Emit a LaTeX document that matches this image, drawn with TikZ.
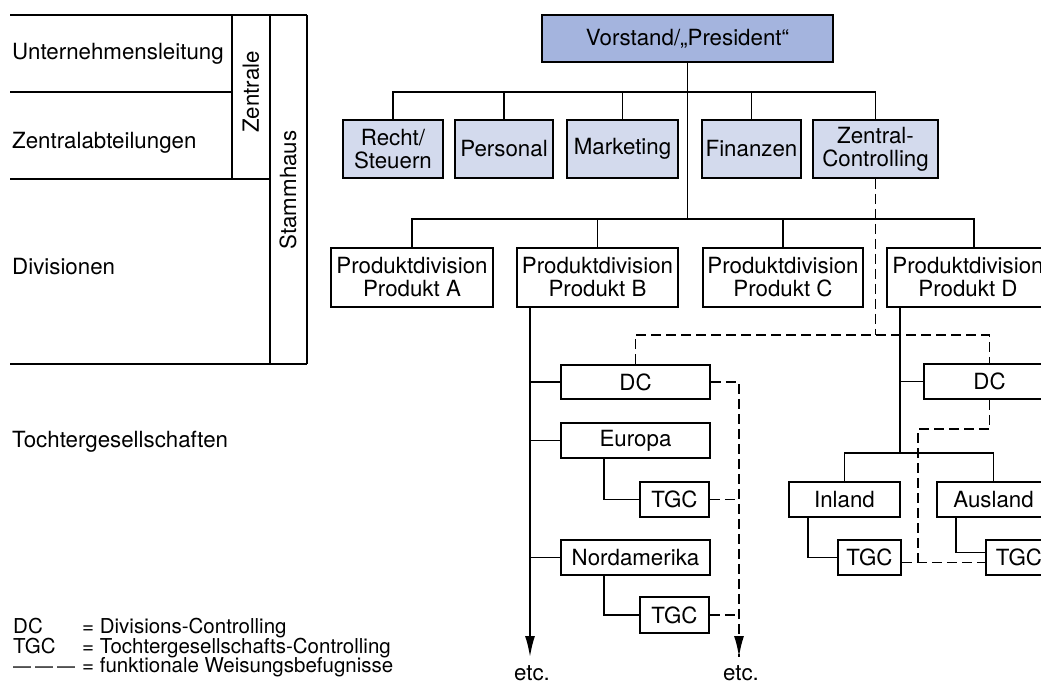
\documentclass[tikz,border=0pt]{standalone}
\usepackage{fontspec}
\setmainfont{TeX Gyre Heros}
\usetikzlibrary{arrows.meta}
\definecolor{darkblu}{RGB}{164,180,222}
\definecolor{lightblu}{RGB}{211,218,237}
\tikzset{
  ln/.style={line width=1.8pt},
  dsh/.style={line width=1.8pt, dash pattern=on 10pt off 5pt},
  box/.style={draw, line width=1.8pt, inner sep=0pt, align=center, font=\fontsize{22.3}{23}\selectfont},
  sbox/.style={box, fill=lightblu},
  lbl/.style={anchor=west, inner sep=0pt, font=\fontsize{22.3}{23}\selectfont},
  leg/.style={anchor=west, inner sep=0pt, text height=14pt, text depth=4pt, font=\fontsize{20.5}{20}\selectfont},
  arr/.style={-{Latex[length=21pt,width=10pt]}}
}
\begin{document}
\begin{tikzpicture}[x=1pt,y=-1pt]
\useasboundingbox (0,0) rectangle (1041,684);
% left panel
\draw[ln] (10,15) -- (307,15);
\draw[ln] (10,92) -- (232,92);
\draw[ln] (10,179) -- (270,179);
\draw[ln] (10,364) -- (307,364);
\draw[ln] (232,15) -- (232,179);
\draw[ln] (270,15) -- (270,364);
\draw[ln] (307,15) -- (307,364);
\node[lbl] (l1) at (12,54) {Unternehmensleitung};
\node[lbl] (l2) at (12,143) {Zentralabteilungen};
\node[lbl] (l3) at (12,267) {Divisionen};
\node[lbl] (l4) at (12,442) {Tochtergesellschaften};
\node[inner sep=0pt, rotate=90, font=\fontsize{22.3}{23}\selectfont] (zen) at (251,92) {Zentrale};
\node[inner sep=0pt, rotate=90, font=\fontsize{22.3}{23}\selectfont] (sta) at (288,190) {Stammhaus};
% legend
\node[leg] (g1) at (13,628) {DC};
\node[leg] (g1b) at (82,628) {= Divisions-Controlling};
\node[leg] (g2) at (13,648) {TGC};
\node[leg] (g2b) at (82,648) {= Tochtergesellschafts-Controlling};
\node[leg, font=\fontsize{18}{20}\selectfont] (g3) at (13,667) {—\kern4pt—\kern4pt—};
\node[leg] (g3b) at (82,667) {= funktionale Weisungsbefugnisse};
% top
\node[box, fill=darkblu, minimum width=291pt, minimum height=47pt] (vs) at (687.5,38.5) {Vorstand/„President“};
\node[sbox, minimum width=100pt, minimum height=58pt] (rs) at (393,149) {Recht/\\Steuern};
\node[sbox, minimum width=98pt, minimum height=58pt] (pe) at (504,149) {Personal};
\node[sbox, minimum width=111pt, minimum height=58pt] (ma) at (622.5,149) {Marketing};
\node[sbox, minimum width=99pt, minimum height=58pt] (fi) at (751.5,149) {Finanzen};
\node[sbox, minimum width=125pt, minimum height=58pt] (zc) at (875.5,149) {Zentral-\\Controlling};
% divisions
\node[box, minimum width=162pt, minimum height=59pt] (pa) at (412,277.5) {Produktdivision\\Produkt A};
\node[box, minimum width=161pt, minimum height=59pt] (pb) at (597.5,277.5) {Produktdivision\\Produkt B};
\node[box, minimum width=160pt, minimum height=59pt] (pc) at (783,277.5) {Produktdivision\\Produkt C};
\node[box, minimum width=162pt, minimum height=59pt] (pd) at (968,277.5) {Produktdivision\\Produkt D};
% division B subtree
\node[box, minimum width=149pt, minimum height=34pt] (dcb) at (635.5,382) {DC};
\node[box, minimum width=149pt, minimum height=35pt] (eu) at (635.5,440.5) {Europa};
\node[box, minimum width=69pt, minimum height=35pt] (tgce) at (674.5,499.5) {TGC};
\node[box, minimum width=149pt, minimum height=35pt] (na) at (635.5,557.5) {Nordamerika};
\node[box, minimum width=69pt, minimum height=36pt] (tgcn) at (674.5,615) {TGC};
% division D subtree
\node[box, minimum width=131pt, minimum height=35pt] (dcd) at (989.5,381.5) {DC};
\node[box, minimum width=111pt, minimum height=35pt] (inl) at (844.5,499.5) {Inland};
\node[box, minimum width=113pt, minimum height=35pt] (aus) at (993.5,499.5) {Ausland};
\node[box, minimum width=63pt, minimum height=35pt] (tgci) at (869.5,557.5) {TGC};
\node[box, minimum width=66pt, minimum height=35pt] (tgca) at (1019,557.5) {TGC};
% etc
\node[anchor=base, inner sep=0pt, font=\fontsize{22.3}{23}\selectfont] (etc1) at (532,680) {etc.};
\node[anchor=base, inner sep=0pt, font=\fontsize{22.3}{23}\selectfont] (etc2) at (741,680) {etc.};
\coordinate (e1) at (530,657);
\coordinate (e2) at (739,657);
\coordinate (b1) at (0,92);
\coordinate (b2) at (0,219);
\coordinate (hd) at (0,335);
\coordinate (bd) at (0,453);
% solid connectors
\draw[ln] (vs.south) -- (vs.south |- b2);
\draw[ln] (rs.north) -- (rs.north |- b1) -- (zc.north |- b1) -- (zc.north);
\foreach \n in {pe,ma,fi} \draw[ln] (\n.north) -- (\n.north |- b1);
\draw[ln] (pa.north) -- (pa.north |- b2) -- ([xshift=6pt]pd.north |- b2) -- ([xshift=6pt]pd.north);
\foreach \n in {pb,pc} \draw[ln] (\n.north) -- (\n.north |- b2);
\draw[ln,arr] (pb.south -| e1) -- (e1);
\foreach \n in {dcb,eu,na} \draw[ln] (\n.west) -- (\n.west -| e1);
\draw[ln] ([xshift=-31.5pt]eu.south) |- (tgce.west);
\draw[ln] ([xshift=-31.5pt]na.south) |- (tgcn.west);
\coordinate (dv) at (900,0);
\draw[ln] (pd.south -| dv) -- (bd -| dv);
\draw[ln] (dcd.west) -- (dcd.west -| dv);
\draw[ln] (inl.north) -- (inl.north |- bd) -- (aus.north |- bd) -- (aus.north);
\draw[ln] ([xshift=-36.5pt]inl.south) |- (tgci.west);
\draw[ln] ([xshift=-37.5pt]aus.south) |- ([yshift=5pt]tgca.west);
% dashed connectors
\draw[dsh] (zc.south) -- (zc.south |- hd);
\draw[dsh] (dcb.north) |- (dcd.north |- hd) -- (dcd.north);
\draw[dsh] (dcb.east) -| (e2);
\draw[ln,arr] ([yshift=14pt]e2) -- (e2);
\draw[dsh] (tgce.east) -- (tgce.east -| e2);
\draw[dsh] (tgcn.east) -- (tgcn.east -| e2);
\coordinate (dj) at (918,0);
\draw[dsh] (dcd.south) -- ++(0,29) -| ([yshift=-5pt]tgci.east -| dj);
\draw[dsh] ([yshift=-5pt]tgci.east) -- ([yshift=-5pt]tgca.west);
\end{tikzpicture}
\end{document}
